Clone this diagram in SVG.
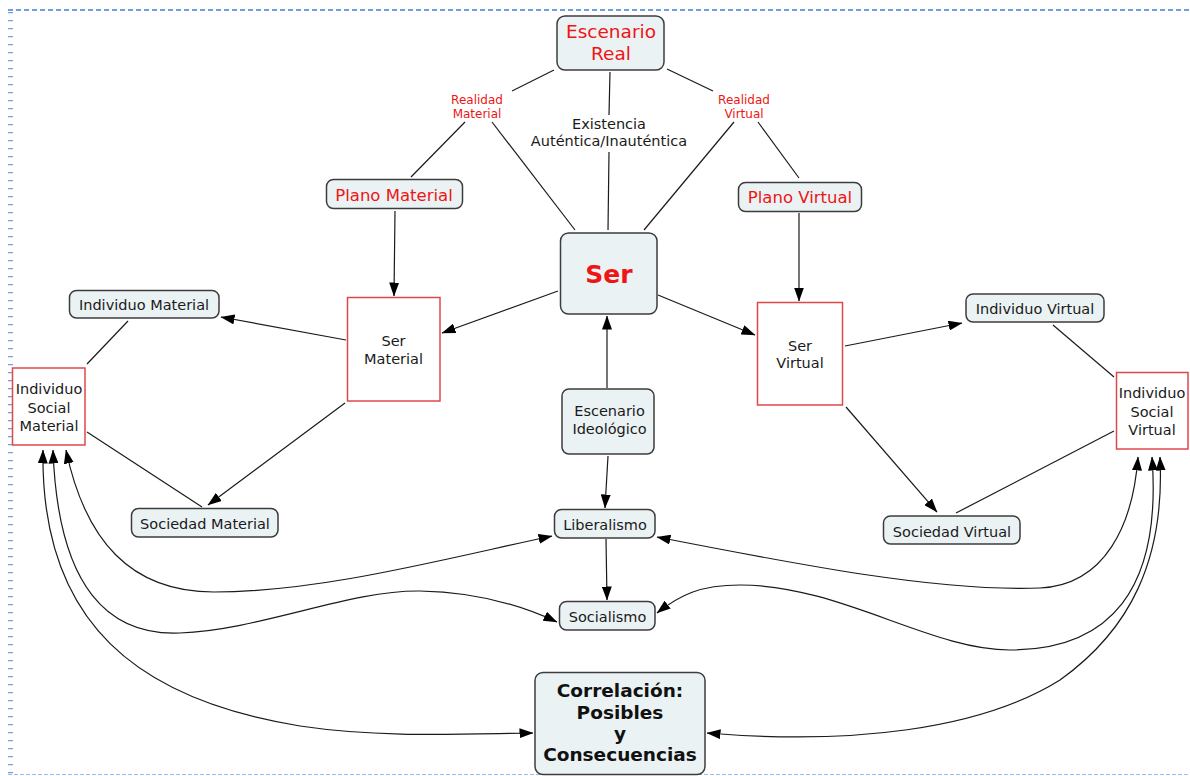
<svg xmlns="http://www.w3.org/2000/svg" width="1190" height="776" viewBox="0 0 1190 776">
<style>
.bg{fill:#ffffff}
.rb{fill:#ebf2f4;stroke:#3c3c3c;stroke-width:1.5}
.sq{fill:#ffffff;stroke:#e04848;stroke-width:1.5}
text{font-family:"DejaVu Sans",Verdana,sans-serif;text-anchor:middle}
.t{font-size:14.5px;fill:#1a1a1a}
.r{fill:#ee1515}
.lbl{font-size:12px;fill:#ee1515}
.c line,.c path{fill:none;stroke:#1a1a1a;stroke-width:1.2}
</style>
<defs>
<marker id="ah" viewBox="0 0 14 10" refX="13.5" refY="5" markerWidth="14" markerHeight="10" markerUnits="userSpaceOnUse" orient="auto-start-reverse">
<path d="M0,0 L14,5 L0,10 Z" fill="#000"/>
</marker>
</defs>
<rect class="bg" x="0" y="0" width="1190" height="776"/>
<g id="border">
<line x1="8" y1="10" x2="1190" y2="10" stroke="#6f9fe0" stroke-width="2" stroke-dasharray="5 3"/>
<line x1="10.5" y1="12" x2="10.5" y2="776" stroke="#6f9fe0" stroke-width="5" stroke-dasharray="1.2 6.8"/>
<line x1="8" y1="774.5" x2="1190" y2="774.5" stroke="#9dbce6" stroke-width="1" stroke-dasharray="4 2"/>
</g>
<g id="connectors" class="c">
<line x1="554" y1="70" x2="512" y2="91"/>
<line x1="465" y1="122" x2="411" y2="177"/>
<line x1="492" y1="122" x2="575" y2="230"/>
<line x1="610" y1="72" x2="609" y2="115"/>
<line x1="609" y1="152" x2="608" y2="230"/>
<line x1="667" y1="69" x2="713" y2="91"/>
<line x1="734" y1="122" x2="644" y2="230"/>
<line x1="758" y1="122" x2="799" y2="178"/>
<line x1="395" y1="211" x2="394" y2="296" marker-end="url(#ah)"/>
<line x1="799" y1="213" x2="799" y2="301" marker-end="url(#ah)"/>
<line x1="558" y1="291" x2="442" y2="333" marker-end="url(#ah)"/>
<line x1="658" y1="295" x2="755" y2="335" marker-end="url(#ah)"/>
<line x1="607" y1="388" x2="607" y2="316" marker-end="url(#ah)"/>
<line x1="608" y1="456" x2="605" y2="508" marker-end="url(#ah)"/>
<line x1="606" y1="539" x2="607" y2="600" marker-end="url(#ah)"/>
<line x1="346" y1="340" x2="221" y2="317" marker-end="url(#ah)"/>
<line x1="345" y1="403" x2="208" y2="505" marker-end="url(#ah)"/>
<line x1="845" y1="346" x2="962" y2="323" marker-end="url(#ah)"/>
<line x1="846" y1="407" x2="937" y2="512" marker-end="url(#ah)"/>
<line x1="128" y1="321" x2="87" y2="364"/>
<line x1="87" y1="432" x2="202" y2="507"/>
<line x1="1053" y1="325" x2="1114" y2="377"/>
<line x1="1114" y1="431" x2="956" y2="513"/>
<path d="M43,450 C40,625 140,700 300,726 C380,738 460,734 533,733" marker-start="url(#ah)" marker-end="url(#ah)"/>
<path d="M53,450 C58,590 110,636 180,633 C260,630 350,590 420,591 C480,592 525,607 557,622" marker-start="url(#ah)" marker-end="url(#ah)"/>
<path d="M66,450 C85,540 130,592 214,592 C320,592 440,560 552,536" marker-start="url(#ah)" marker-end="url(#ah)"/>
<path d="M657,537 C800,565 940,592 1040,588 C1105,585 1133,525 1138,457" marker-start="url(#ah)" marker-end="url(#ah)"/>
<path d="M657,613 C680,595 700,585 740,585 C840,585 930,650 1010,650 C1110,650 1162,590 1152,457" marker-start="url(#ah)" marker-end="url(#ah)"/>
<path d="M707,733 C850,745 980,730 1060,680 C1130,630 1165,560 1160,457" marker-start="url(#ah)" marker-end="url(#ah)"/>
</g>
<g id="labels">
<text class="lbl" x="477" y="104">Realidad</text>
<text class="lbl" x="477" y="118">Material</text>
<text class="t" x="609" y="129">Existencia</text>
<text class="t" x="609" y="146">Auténtica/Inauténtica</text>
<text class="lbl" x="744" y="104">Realidad</text>
<text class="lbl" x="744" y="118">Virtual</text>
</g>
<g id="escenario-real">
<rect class="rb" x="557" y="16" width="107" height="54" rx="8"/>
<text class="r" x="611" y="37.5" font-size="18.5">Escenario</text>
<text class="r" x="611" y="60" font-size="18.5">Real</text>
</g>
<g id="plano-material">
<rect class="rb" x="326.5" y="179.5" width="136" height="29" rx="7"/>
<text class="r" x="394" y="201" font-size="16.5">Plano Material</text>
</g>
<g id="plano-virtual">
<rect class="rb" x="738.5" y="182.5" width="123" height="29" rx="7"/>
<text class="r" x="800" y="203" font-size="16.5">Plano Virtual</text>
</g>
<g id="ser">
<rect class="rb" x="560.5" y="233" width="96.5" height="81" rx="8"/>
<text class="r" x="609" y="283" font-size="25" font-weight="bold">Ser</text>
</g>
<g id="ser-material">
<rect class="sq" x="347.5" y="297.5" width="92.5" height="103.5"/>
<text class="t" x="393.5" y="346">Ser</text>
<text class="t" x="393.5" y="364">Material</text>
</g>
<g id="ser-virtual">
<rect class="sq" x="757.5" y="302.5" width="85" height="102.5"/>
<text class="t" x="800" y="350.5">Ser</text>
<text class="t" x="800" y="368">Virtual</text>
</g>
<g id="individuo-material">
<rect class="rb" x="69.5" y="290.5" width="149.5" height="27.5" rx="7"/>
<text class="t" x="144" y="309.5">Individuo Material</text>
</g>
<g id="individuo-social-material">
<rect class="sq" x="12.5" y="368" width="72.5" height="77"/>
<text class="t" x="49" y="394">Individuo</text>
<text class="t" x="49" y="412.5">Social</text>
<text class="t" x="49" y="431">Material</text>
</g>
<g id="sociedad-material">
<rect class="rb" x="131.5" y="508.5" width="146.5" height="28.5" rx="7"/>
<text class="t" x="205" y="529">Sociedad Material</text>
</g>
<g id="individuo-virtual">
<rect class="rb" x="966" y="294" width="138" height="28" rx="7"/>
<text class="t" x="1035" y="314">Individuo Virtual</text>
</g>
<g id="individuo-social-virtual">
<rect class="sq" x="1116.5" y="372.5" width="71.5" height="76.5"/>
<text class="t" x="1152" y="398">Individuo</text>
<text class="t" x="1152" y="416.5">Social</text>
<text class="t" x="1152" y="434.5">Virtual</text>
</g>
<g id="sociedad-virtual">
<rect class="rb" x="883.5" y="516" width="136.5" height="28" rx="7"/>
<text class="t" x="952" y="536.5">Sociedad Virtual</text>
</g>
<g id="escenario-ideologico">
<rect class="rb" x="562" y="389" width="92" height="65" rx="7"/>
<text class="t" x="609.5" y="416">Escenario</text>
<text class="t" x="609.5" y="434">Ideológico</text>
</g>
<g id="liberalismo">
<rect class="rb" x="554.5" y="509.5" width="100.5" height="28.5" rx="7"/>
<text class="t" x="605" y="530">Liberalismo</text>
</g>
<g id="socialismo">
<rect class="rb" x="559.5" y="601.5" width="95.5" height="28.5" rx="7"/>
<text class="t" x="607.5" y="622">Socialismo</text>
</g>
<g id="correlacion">
<rect class="rb" x="535" y="672.5" width="170" height="102" rx="8"/>
<text x="620" y="697" font-size="18.5" font-weight="bold" fill="#111">Correlación:</text>
<text x="620" y="718.5" font-size="18.5" font-weight="bold" fill="#111">Posibles</text>
<text x="620" y="740" font-size="18.5" font-weight="bold" fill="#111">y</text>
<text x="620" y="761" font-size="18.5" font-weight="bold" fill="#111">Consecuencias</text>
</g>
</svg>
